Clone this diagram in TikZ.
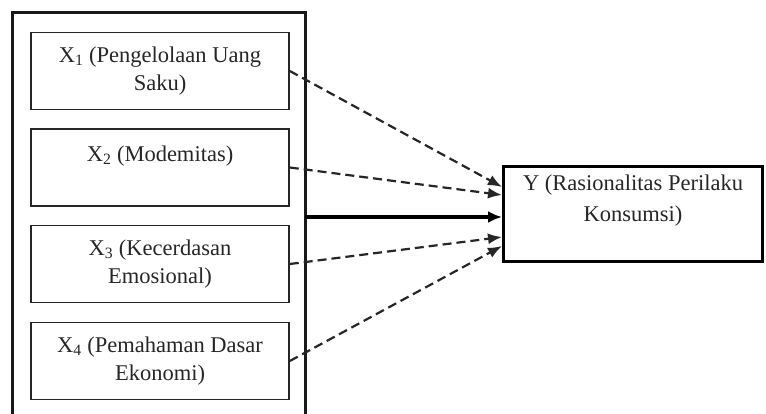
\documentclass[tikz,border=0pt]{standalone}
\usepackage{fontspec}
\setmainfont{Liberation Serif}
\usetikzlibrary{arrows.meta}
\begin{document}
\begin{tikzpicture}[x=1pt,y=-1pt,
  xbox/.style={draw=black!85,line width=1.6pt,minimum width=258pt,minimum height=77pt,
    align=center,inner sep=0pt,font=\fontsize{22.5}{28}\selectfont,text=black!85},
  ybox/.style={draw=black,line width=3pt,minimum width=259pt,minimum height=95pt,
    align=center,inner sep=0pt,font=\fontsize{22.5}{31}\selectfont,text=black!85},
  dasharrow/.style={draw=black!85,line width=2.2pt,dash pattern=on 9pt off 5pt,
    -{Latex[length=14pt,width=11pt]}},
  thickarrow/.style={draw=black,line width=4pt,-{Latex[length=14pt,width=12pt]}},
  outerline/.style={draw=black!90,line width=3pt}]
\useasboundingbox (0,0) rectangle (766,414);
\draw[outerline] (12,420) -- (12,13) -- (305,13) -- (305,420);
\node[xbox] (x1) at (160,71) {X\textsubscript{1} (Pengelolaan Uang\\Saku)};
\node[xbox] (x2) at (160,167.5) {X\textsubscript{2} (Modemitas)\\\mbox{}};
\node[xbox] (x3) at (160,264) {X\textsubscript{3} (Kecerdasan\\Emosional)};
\node[xbox] (x4) at (160,361) {X\textsubscript{4} (Pemahaman Dasar\\Ekonomi)};
\node[ybox] (y) at (633,214) {Y (Rasionalitas Perilaku\\Konsumsi)\\\mbox{}};
\coordinate (ob) at (305,217);
\draw[dasharrow] (x1.east) -- ([yshift=27pt]y.west);
\draw[dasharrow] (x2.east) -- ([yshift=19pt]y.west);
\draw[thickarrow] (ob) -- (y.west |- ob);
\draw[dasharrow] (x3.east) -- ([yshift=-23pt]y.west);
\draw[dasharrow] (x4.east) -- ([yshift=-32pt]y.west);
\end{tikzpicture}
\end{document}
